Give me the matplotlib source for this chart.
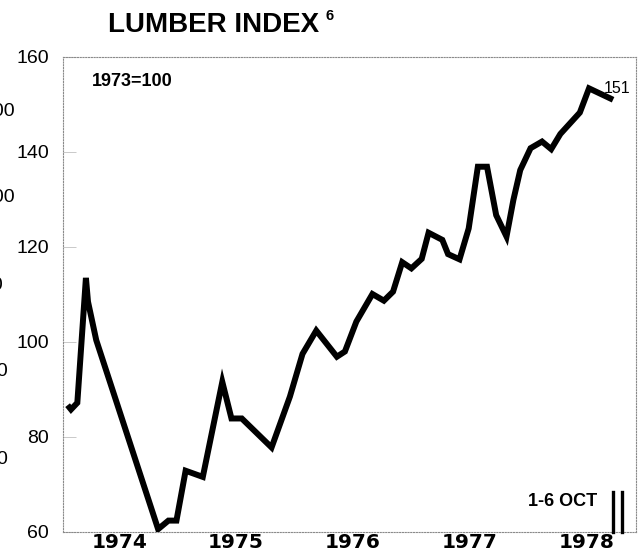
import matplotlib
matplotlib.use("Agg")
import matplotlib.pyplot as plt

# Lumber price index, 1973 = 100 (dates as decimal years)
dates = [1974.04, 1974.07, 1974.125, 1974.20, 1974.218, 1974.29,
         1974.83, 1974.92, 1974.99, 1975.07, 1975.22, 1975.39,
         1975.47, 1975.56, 1975.82, 1975.98, 1976.09, 1976.21,
         1976.39, 1976.46, 1976.56, 1976.70, 1976.80, 1976.88,
         1976.96, 1977.04, 1977.13, 1977.19, 1977.31, 1977.36,
         1977.46, 1977.54, 1977.62, 1977.70, 1977.78, 1977.87,
         1977.93, 1977.99, 1978.08, 1978.18, 1978.26, 1978.34,
         1978.51, 1978.59, 1978.80]
index = [86.7, 85.8, 87.2, 113.5, 108.5, 100.4,
         60.6, 62.4, 62.4, 72.9, 71.6, 91.6,
         83.9, 83.9, 77.8, 88.5, 97.5, 102.4,
         96.9, 98.0, 104.3, 110.1, 108.7, 110.6,
         116.8, 115.5, 117.5, 123.0, 121.5, 118.5,
         117.4, 123.9, 136.9, 136.9, 126.7, 122.2,
         129.9, 136.2, 140.8, 142.2, 140.6, 143.8,
         148.3, 153.4, 151.0]

years = [1974, 1975, 1976, 1977, 1978]
year_labels = ["1974", "1975", "1976", "1977", "1978"]
y_ticks = [60, 80, 100, 120, 140, 160]
latest_label = "151"

W, H = 644, 552
SANS = ["Liberation Sans", "DejaVu Sans"]
fig = plt.figure(figsize=(W / 100, H / 100), dpi=100)
fig.patch.set_facecolor("white")

# axes frame in pixel terms: left 63, right 636, top 57, bottom 532
ax = fig.add_axes([63 / W, (H - 532) / H, (636 - 63) / W, (532 - 57) / H])
ax.set_xlim(1974, 1979)
ax.set_ylim(60, 160)

ax.plot(dates, index, color="black", lw=4.3,
        solid_joinstyle="miter", solid_capstyle="butt", zorder=3)

# frame drawn as a faint dotted border
for side in ["left", "right", "top", "bottom"]:
    sp = ax.spines[side]
    sp.set_linestyle((0, (1, 1.5)))
    sp.set_color("#8a8a8a")
    sp.set_linewidth(0.8)

ax.set_yticks(y_ticks)
ax.set_yticklabels([str(v) for v in y_ticks], fontsize=14, family=SANS)
ax.tick_params(axis="y", direction="in", length=9, width=0.6,
               color="#c0c0c0", pad=10)

# year labels sit a little right of mid-year, spreading slightly
ax.set_xticks([y + 0.49 + 0.02 * i for i, y in enumerate(years)])
ax.set_xticklabels(year_labels, fontsize=14.5, fontweight="bold",
                   family=["DejaVu Sans"])
ax.tick_params(axis="x", length=0, pad=1)

# title with footnote marker
fig.text(108 / W, 1 - 25 / H, "LUMBER INDEX", fontsize=20, fontweight="bold",
         family=SANS, ha="left", va="center")
fig.text(325 / W, 1 - 16 / H, "6", fontsize=10.5, fontweight="bold",
         family=SANS, ha="left", va="center")

fig.text(92 / W, 1 - 82 / H, "1973=100", fontsize=13, fontweight="bold",
         family=SANS, ha="left", va="center")

ax.annotate(latest_label, xy=(dates[-1], index[-1]), xytext=(-7, 8),
            textcoords="offset points", fontsize=11.5,
            family=SANS, ha="left", va="center")

fig.text(528 / W, 1 - 502 / H, "1-6 OCT", fontsize=13, fontweight="bold",
         family=SANS, ha="left", va="center")

# break marks before the latest weekly value
for xb in [612.5, 621.5]:
    fig.add_artist(plt.Line2D([xb / W, xb / W], [(H - 532) / H, (H - 492) / H],
                              color="black", lw=2.4))

# clipped axis numbers of the neighbouring panel at the left edge
for yy, xr, s in [(111, 15, "100"), (198, 15, "100"), (285, 3, "80"),
                  (372, 8, "60"), (459, 8, "40")]:
    fig.text(xr / W, 1 - yy / H, s, fontsize=14,
             family=SANS, ha="right", va="center")

fig.savefig("out.png", dpi=100, facecolor="white")
